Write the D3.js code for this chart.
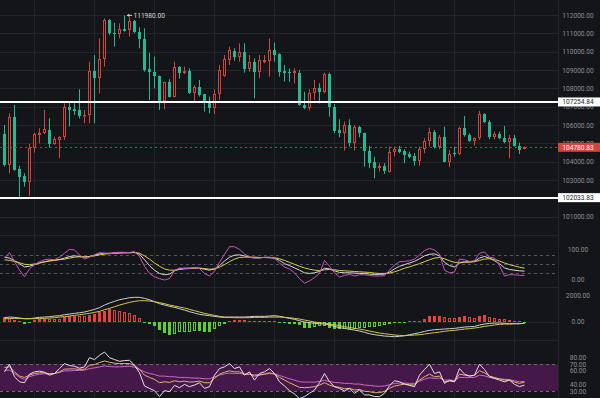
<!DOCTYPE html>
<html>
<head>
<meta charset="utf-8">
<script src="https://cdn.jsdelivr.net/npm/d3@7"></script>
<style>
  body { margin: 0; background: #141518; }
  svg { display: block; }
  text { font-family: Roboto, "Noto Sans", sans-serif; }
</style>
</head>
<body>
<svg id="chart" width="600" height="398"></svg>
<script>
// candles, one per slot
const openP = [105491,103819,106455,103601,103237,102910,104764,105473,105546,105728,104964,105182,105328,107000,106891,106819,106491,106546,108946,108546,
  109600,111727,111036,110945,111236,111182,111673,111055,110673,109037,108909,108673,107309,108328,107546,109182,108855,108946,107728,108091,
  107673,107219,106910,107673,108673,109546,110055,109691,109964,109055,109418,108873,109455,109509,110091,109855,108928,108873,108855,108855,
  107091,106910,107728,108000,107818,108782,107000,105728,105582,106000,105001,105910,105546,104601,103964,103673,103764,103456,104510,104673,
  104601,104400,104310,104055,104692,105146,105637,104819,105364,104001,104492,104419,105855,105455,105146,105273,106582,106182,105328,105491,
  105310,105055,105273,104873,104692];
const highP = [106000,106637,107091,103764,103364,104964,105582,105819,106819,106364,105364,105380,107182,107273,107182,107946,106819,109455,109818,110727,
  111818,111782,111582,111545,111980,111909,111727,111327,111273,109946,109727,108700,108364,108509,109455,109218,109182,109091,108182,108455,
  107690,107546,107946,109273,109818,110273,110182,110455,110455,109818,109636,109818,109818,110727,110491,109909,109273,109091,109091,109000,
  107818,107946,108455,108273,108855,108855,107146,106310,106182,106310,106000,105946,105582,104855,104273,103910,103910,104819,104819,104855,
  104673,104546,104455,104819,105273,105855,105728,105455,105910,104637,104819,105910,106491,105546,105328,106764,106637,106273,105637,105637,
  105946,105455,105455,105037,104819];
const lowP = [103728,103364,103500,102034,102637,102128,104492,105001,105500,104764,104910,104183,105182,105910,106546,106364,106091,106091,106091,107728,
  109182,110909,110273,110727,111091,110818,111000,110182,108909,107364,108000,106819,106855,107510,107510,108528,108782,107691,107273,107546,
  106728,106637,106601,107364,108637,109273,109509,109455,108855,108909,107455,108546,109364,108637,109455,108637,108364,108364,108273,107037,
  106855,106782,107364,107182,107728,106455,105546,105328,104601,104819,104601,105328,103728,103637,103092,103456,103328,103401,104273,104455,
  103910,104183,103782,103782,104455,104819,104728,104673,103964,103692,104273,104364,105364,105091,104873,105182,106091,105219,105219,105219,
  105001,104183,104819,104419,104673];
const closeP = [103819,106455,103546,103183,102910,104764,105491,105582,105764,104964,105219,105364,107000,106819,106782,106491,106564,108946,108546,109600,
  111727,111000,110964,111236,111145,111673,111055,110673,109000,108909,108673,107309,108328,107546,109182,108855,108964,107728,108091,107637,
  107219,106910,107673,109000,109582,110091,109727,110000,109055,109418,108873,109546,109546,110091,109818,108909,108855,108837,108928,107091,
  106910,107728,108000,107818,108782,107000,105692,105582,106000,105001,105910,105546,104601,103946,103673,103764,103492,104546,104673,104546,
  104364,104273,104055,104692,105146,105637,104819,105364,104001,104419,104419,105855,105455,105146,105273,106582,106182,105328,105491,105310,
  105055,105273,104873,104637,104780.83];

const priceTicks = [100000,101000,102000,103000,104000,105000,106000,107000,108000,109000,110000,111000,112000];
const levelPrices = [107254.84, 102033.83];
const lastPrice = 104780.83;
const timeGrid = [6, 18, 30, 42, 54, 66, 78, 90, 102];

// KDJ
const kLine = [73.1,69.9,61.3,51.6,40.9,43,48.4,53.8,58.1,61.3,63.4,65.6,69.9,75.3,77.4,75.3,73.1,75.3,79.6,83.9,86,86,87.1,88.2,88.2,88.2,89.2,82.8,64.5,45.2,30.1,19.4,15.1,17.2,28,34.4,36.6,36.6,37.6,36.6,
  33.3,30.1,34.4,45.2,60.2,73.1,79.6,80.6,77.4,73.1,71,71,72,71,69.9,62.4,51.6,45.2,37.6,30.1,21.5,19.4,21.5,25.8,36.6,34.4,28,22.6,21.5,21.5,20.4,19.4,19.4,17.2,16.1,16.1,17.2,23.7,34.4,43,
  48.4,53.8,59.1,67.7,77.4,82.8,83.9,77.4,55.9,45.2,40.9,53.8,57,57,59.1,69.9,75.3,69.9,61.3,51.6,37.6,32.3,30.1,28,26.9];
const dLine = [64.5,62.4,59.1,54.8,49.5,48.4,50.5,53.8,57,60.2,62.4,64.5,66.7,69.9,73.1,74.2,74.2,75.3,77.4,80.6,82.8,84.9,86,86,87.1,87.1,88.2,86,77.4,66.7,53.8,43,34.4,30.1,30.1,32.3,34.4,35.5,36.6,36.6,
  35.5,33.3,34.4,39.8,48.4,58.1,66.7,72,73.1,73.1,73.1,72,72,72,71,67.7,62.4,55.9,49.5,43,37.6,33.3,30.1,29,31.2,32.3,31.2,29,28,26.9,25.8,24.7,23.7,22.6,20.4,19.4,19.4,20.4,24.7,30.1,
  36.6,40.9,46.2,51.6,58.1,64.5,69.9,72,67.7,61.3,55.9,55.9,57,57,58.1,62.4,66.7,67.7,65.6,60.2,53.8,48.4,44.1,39.8,36.6];
const jLine = [69.9,88.2,59.1,30.1,8.6,34.4,48.4,58.1,64.5,66.7,64.5,73.1,86,98.9,96.8,80.6,66.7,73.1,80.6,88.2,86,83.9,88.2,89.2,89.2,88.2,91.4,75.3,43,19.4,8.6,2.2,-2.2,2.2,29,37.6,35.5,36.6,37.6,35.5,
  19.4,10.8,26.9,55.9,82.8,107.5,107.5,98.9,83.9,72,69.9,69.9,73.1,73.1,69.9,53.8,39.8,34.4,21.5,2.2,-12.9,-5.4,5.4,19.4,62.4,43,21.5,7.5,12.9,16.1,10.8,15.1,15.1,12.9,10.8,10.8,11.8,30.1,47.3,58.1,
  59.1,61.3,66.7,80.6,94.6,102.2,96.8,82.8,30.1,21.5,23.7,66.7,64.5,59.1,61.3,86,90.3,73.1,70,45,10.8,15.1,15.1,12.9,12.9];
const kdjTicks = [0, 100];
const kdjDash = [20, 50, 80];

// MACD
const difLine = [308,359,333,282,231,231,282,333,359,385,436,462,538,590,641,692,744,846,949,1077,1282,1436,1564,1692,1769,1846,1872,1872,1795,1692,1538,1385,1282,1179,1103,1000,897,769,667,564,
  513,462,410,359,333,359,359,359,359,385,410,410,410,436,462,410,333,256,180,77,-26,-77,-128,-154,-180,-256,-359,-462,-513,-590,-641,-718,-821,-923,-1000,-1051,-1103,-1128,-1154,-1128,
  -1077,-1000,-923,-846,-744,-667,-615,-590,-564,-538,-513,-462,-410,-385,-359,-256,-180,-128,-103,-103,-128,-154,-154,-154,-128];
const deaLine = [231,231,256,256,231,231,231,256,256,282,308,359,385,436,487,538,590,641,718,795,923,1026,1154,1282,1385,1487,1564,1615,1615,1590,1538,1462,1385,1282,1205,1128,1051,949,846,744,
  641,564,487,410,359,333,308,308,308,308,333,333,333,359,359,359,333,308,256,205,128,51,-26,-77,-128,-180,-231,-308,-385,-436,-513,-564,-641,-718,-795,-872,-923,-974,-1026,-1051,
  -1077,-1051,-1026,-1000,-949,-897,-846,-795,-744,-692,-667,-615,-564,-538,-487,-436,-359,-308,-256,-205,-180,-180,-154,-154,-128];
const macdBar = [359,256,154,26,-180,-77,154,205,231,205,180,175,359,410,436,410,410,513,590,718,846,974,923,820,744,667,513,256,-103,-154,-359,-667,-872,-1026,-974,-821,-795,-769,-744,-750,
  -770,-780,-560,-350,-154,77,103,128,103,77,51,51,51,60,51,-77,-128,-180,-205,-256,-487,-513,-410,-359,-308,-462,-564,-590,-575,-560,-540,-510,-470,-430,-390,-300,-231,-154,-100,-60,
  -51,26,26,51,205,410,462,470,333,308,282,385,410,385,282,462,513,359,282,231,180,128,77,26,-26];
const macdTicks = [0, 2000];

// RSI
const rsi1 = [58.4,69.7,51.1,43.7,42.3,55,58.4,59.4,57.9,53.5,56,63.3,70.7,67.7,66.8,63.8,65.8,79.5,76.6,83,87.8,79.5,76.6,74.1,75.1,75.6,68.2,57,37.4,33.9,30.5,21.7,30.5,29,38.3,34.9,39.8,36.4,38.8,42.3,
  33.9,36.4,53.5,63.3,65.8,70.7,63.3,65.8,53.5,58.4,46.2,56,58.4,63.3,56,43.7,37.4,30.5,25.6,18.7,21.7,26.6,31.5,42.3,56,43.7,36.4,33.9,30,33.9,26.6,31.5,24.2,24.2,21.7,21.7,26.6,37.8,45.2,43.7,
  40.3,38.3,36.4,53.5,61.9,69.7,56,58.4,41.3,46.2,43.7,63.3,55,52.1,53.5,69.7,61.9,51.1,48.6,46.2,43.7,46.2,39.8,36.4,38.8];
const rsi2 = [64.8,65.8,58.4,52.1,50.1,53.5,56,57,57,55.5,56,58.4,62.4,62.8,62.8,61.9,62.4,68.2,69.2,72.2,74.6,72.6,71.2,70.7,70.7,70.7,67.7,61.9,53.5,50.1,47.2,42.3,43.7,42.7,45.2,43.7,44.7,43.2,43.7,44.7,
  42.3,42.3,48.6,55,57.9,59.9,58.4,58.4,55,55,52.1,53.5,55,57,55,50.1,46.2,42.3,38.8,35.4,34.9,35.4,36.4,38.8,42.3,38.8,36.4,35.4,33.4,33.9,31.5,32.4,29.5,29,27.5,27.5,29.5,33.9,37.4,38.8,
  40.3,39.3,38.8,46.2,51.1,55,51.1,52.1,43.7,44.7,43.7,55,53.5,52.5,53,59.9,57,52.1,50.1,48.1,46.2,46.2,43.2,41.3,43.2];
const rsi3 = [60.9,60.9,56,50.1,47.2,51.1,53.5,55,55.5,55.5,56,57.5,59.9,59.9,60.4,60.4,60.9,63.3,64.3,65.8,67.3,66.3,65.8,65.8,66.3,66.8,65.3,61.9,58.4,56,54.5,52.1,52.1,51.1,51.1,50.1,50.1,49.6,49.1,49.1,
  48.1,48.1,51.1,53.5,55.5,56.5,56,56,55,55,54,54.5,55,56,55.5,53,50.6,48.1,46.2,43.7,43.2,43.2,43.2,44.2,45.7,44.2,42.7,42.3,41.3,41.3,40.3,40.3,38.8,38.3,37.4,36.9,37.4,39.3,41.3,41.8,
  41.8,41.3,41.3,44.7,47.6,49.6,48.6,49.1,46.2,46.2,45.7,50.1,50.1,50.1,50.1,53.5,52.5,50.1,49.1,48.1,47.2,46.7,45.2,43.7,44.2];
const rsiTicks = [30, 40, 60, 70, 80];
const rsiBand = [30, 70];

const UP = '#d3443e', DOWN = '#25b894', BAR_UP = '#e8403a', BAR_DN = '#5bd22c';
const GRID = '#222428', LABEL = '#8d9096';
const plotR = 558, axisX = 578;

const svg = d3.select('#chart');
svg.append('rect').attr('width', 600).attr('height', 398).attr('fill', '#141518');

const idx = d3.range(closeP.length);
const x = d3.scaleLinear().domain([0, 110]).range([4, 554]);
const px = i => Math.round(x(i)) + 0.5;

const yMain = d3.scaleLinear().domain([101000, 112000]).range([216.6, 15]);
const yKdj = d3.scaleLinear().domain([0, 100]).range([279.3, 249]);
const yMacd = d3.scaleLinear().domain([0, 2000]).range([321.7, 295.7]);
const yRsi = d3.scaleLinear().domain([30, 80]).range([391, 357.3]);

const panels = [
  { id: 'pMain', top: 0, bottom: 235 },
  { id: 'pKdj', top: 235, bottom: 287 },
  { id: 'pMacd', top: 287, bottom: 340 },
  { id: 'pRsi', top: 340, bottom: 398 }
];
const defs = svg.append('defs');
panels.forEach(p => {
  defs.append('clipPath').attr('id', p.id)
    .append('rect').attr('x', 0).attr('y', p.top).attr('width', plotR).attr('height', p.bottom - p.top);
});

// grid
const grid = svg.append('g');
grid.selectAll('.vg').data(timeGrid).enter().append('line')
  .attr('x1', d => px(d)).attr('x2', d => px(d)).attr('y1', 0).attr('y2', 398)
  .attr('stroke', GRID);
grid.append('line').attr('x1', plotR + 0.5).attr('x2', plotR + 0.5).attr('y1', 0).attr('y2', 398).attr('stroke', GRID);
grid.selectAll('.hg').data(priceTicks).enter().append('line')
  .attr('x1', 0).attr('x2', plotR).attr('y1', d => Math.round(yMain(d)) + 0.5).attr('y2', d => Math.round(yMain(d)) + 0.5)
  .attr('stroke', GRID);
grid.selectAll('.sep').data([287, 340]).enter().append('line')
  .attr('x1', 0).attr('x2', plotR).attr('y1', d => d + 0.5).attr('y2', d => d + 0.5).attr('stroke', GRID);
grid.append('line').attr('x1', 0).attr('x2', plotR)
  .attr('y1', Math.round(yMacd(0)) + 0.5).attr('y2', Math.round(yMacd(0)) + 0.5).attr('stroke', GRID);

// RSI band + dashed guides
svg.append('rect').attr('x', 0).attr('width', plotR)
  .attr('y', yRsi(rsiBand[1])).attr('height', yRsi(rsiBand[0]) - yRsi(rsiBand[1]))
  .attr('fill', '#45184a');
svg.selectAll('.rd').data(rsiBand).enter().append('line')
  .attr('x1', 0).attr('x2', plotR).attr('y1', d => Math.round(yRsi(d)) + 0.5).attr('y2', d => Math.round(yRsi(d)) + 0.5)
  .attr('stroke', '#6d6a72').attr('stroke-dasharray', '3,3');
svg.selectAll('.kd').data(kdjDash).enter().append('line')
  .attr('x1', 0).attr('x2', plotR).attr('y1', d => Math.round(yKdj(d)) + 0.5).attr('y2', d => Math.round(yKdj(d)) + 0.5)
  .attr('stroke', '#55575c').attr('stroke-dasharray', '3,3');

// candles
const main = svg.append('g').attr('clip-path', 'url(#pMain)');
const candle = main.selectAll('.c').data(idx).enter().append('g');
candle.each(function (i) {
  const g = d3.select(this);
  const up = closeP[i] >= openP[i];
  const col = up ? UP : DOWN;
  const c = px(i);
  const yTop = Math.round(yMain(Math.max(openP[i], closeP[i])));
  const yBot = Math.max(Math.round(yMain(Math.min(openP[i], closeP[i]))), yTop + 1);
  const yH = yMain(highP[i]), yL = yMain(lowP[i]);
  g.append('line').attr('x1', c).attr('x2', c).attr('y1', yH).attr('y2', yTop).attr('stroke', col);
  g.append('line').attr('x1', c).attr('x2', c).attr('y1', yBot).attr('y2', yL).attr('stroke', col);
  if (up) {
    g.append('rect').attr('x', c - 1).attr('y', yTop + 0.5).attr('width', 2).attr('height', Math.max(yBot - yTop - 1, 0.5))
      .attr('fill', '#141518').attr('stroke', col);
  } else {
    g.append('rect').attr('x', c - 1.5).attr('y', yTop).attr('width', 3).attr('height', yBot - yTop).attr('fill', col);
  }
});

// horizontal levels
levelPrices.forEach(p => {
  const y = Math.round(yMain(p));
  main.append('line').attr('x1', 0).attr('x2', plotR).attr('y1', y).attr('y2', y)
    .attr('stroke', '#ffffff').attr('stroke-width', 2);
});
main.append('line').attr('x1', 0).attr('x2', plotR)
  .attr('y1', Math.round(yMain(lastPrice)) + 0.5).attr('y2', Math.round(yMain(lastPrice)) + 0.5)
  .attr('stroke', '#b5403b').attr('stroke-dasharray', '2,3');

// high marker
const hiIdx = d3.maxIndex(highP);
const hx = px(hiIdx) + 2.5, hy = yMain(highP[hiIdx]);
svg.append('line').attr('x1', hx).attr('x2', hx + 5).attr('y1', hy).attr('y2', hy).attr('stroke', '#d6d6d6');
svg.append('path').attr('d', `M${hx},${hy}l2.2,-1.6v3.2z`).attr('fill', '#d6d6d6');
svg.append('text').attr('x', hx + 6.5).attr('y', hy).attr('dy', '0.34em')
  .attr('font-size', 6.6).attr('fill', '#d6d6d6').text(d3.format('.2f')(highP[hiIdx]));

// KDJ
const kdj = svg.append('g').attr('clip-path', 'url(#pKdj)');
[[kLine, '#d9d9d9'], [dLine, '#dccb4e'], [jLine, '#c455c0']].forEach(([arr, col]) => {
  kdj.append('path').datum(idx)
    .attr('d', d3.line().x(i => px(i)).y(i => yKdj(arr[i])))
    .attr('fill', 'none').attr('stroke', col).attr('stroke-width', 1);
});

// MACD
const macd = svg.append('g').attr('clip-path', 'url(#pMacd)');
const zeroY = yMacd(0);
macd.selectAll('.b').data(idx).enter().append('rect')
  .each(function (i) {
    const v = macdBar[i];
    const prev = i > 0 ? macdBar[i - 1] : null;
    const pos = v >= 0;
    const col = pos ? BAR_UP : BAR_DN;
    const solid = prev === null || (pos ? v > prev : v < prev);
    const y0 = Math.round(Math.min(yMacd(v), zeroY));
    const y1 = Math.round(Math.max(yMacd(v), zeroY));
    const h = Math.max(y1 - y0, 1);
    const r = d3.select(this);
    if (solid || h < 3) {
      r.attr('x', px(i) - 1.5).attr('y', y0).attr('width', 3).attr('height', h).attr('fill', col);
    } else {
      r.attr('x', px(i) - 1).attr('y', y0 + 0.5).attr('width', 2).attr('height', h - 1)
        .attr('fill', 'none').attr('stroke', col);
    }
  });
[[difLine, '#cfcfcf'], [deaLine, '#d6c74c']].forEach(([arr, col]) => {
  macd.append('path').datum(idx)
    .attr('d', d3.line().x(i => px(i)).y(i => yMacd(arr[i])))
    .attr('fill', 'none').attr('stroke', col).attr('stroke-width', 1);
});

// RSI
const rsi = svg.append('g').attr('clip-path', 'url(#pRsi)');
[[rsi3, '#d264cf'], [rsi2, '#e2b85c'], [rsi1, '#e4e0e6']].forEach(([arr, col]) => {
  rsi.append('path').datum(idx)
    .attr('d', d3.line().x(i => px(i)).y(i => yRsi(arr[i])))
    .attr('fill', 'none').attr('stroke', col).attr('stroke-width', 1);
});

// right axes
const fmt = d3.format('.2f');
const drawAxis = (scale, ticks) => {
  const g = svg.append('g').attr('transform', `translate(${axisX},0)`)
    .call(d3.axisRight(scale).tickValues(ticks).tickFormat(fmt).tickSize(0).tickPadding(0));
  g.select('.domain').remove();
  g.selectAll('text').attr('text-anchor', 'middle').attr('fill', LABEL)
    .attr('font-size', 6.6).attr('font-family', 'Roboto, sans-serif');
};
drawAxis(yMain, priceTicks.filter(d => d >= 101000));
drawAxis(yKdj, kdjTicks);
drawAxis(yMacd, macdTicks);
drawAxis(yRsi, rsiTicks);

// price tags
const tag = (p, bg, fg) => {
  const y = yMain(p);
  svg.append('rect').attr('x', 558).attr('y', y - 4.5).attr('width', 42).attr('height', 9).attr('fill', bg);
  svg.append('text').attr('x', axisX).attr('y', y).attr('dy', '0.34em').attr('text-anchor', 'middle')
    .attr('font-size', 6.6).attr('fill', fg).text(fmt(p));
};
levelPrices.forEach(p => tag(p, '#ffffff', '#1b1c1f'));
tag(lastPrice, '#d6433e', '#ffffff');
</script>
</body>
</html>
